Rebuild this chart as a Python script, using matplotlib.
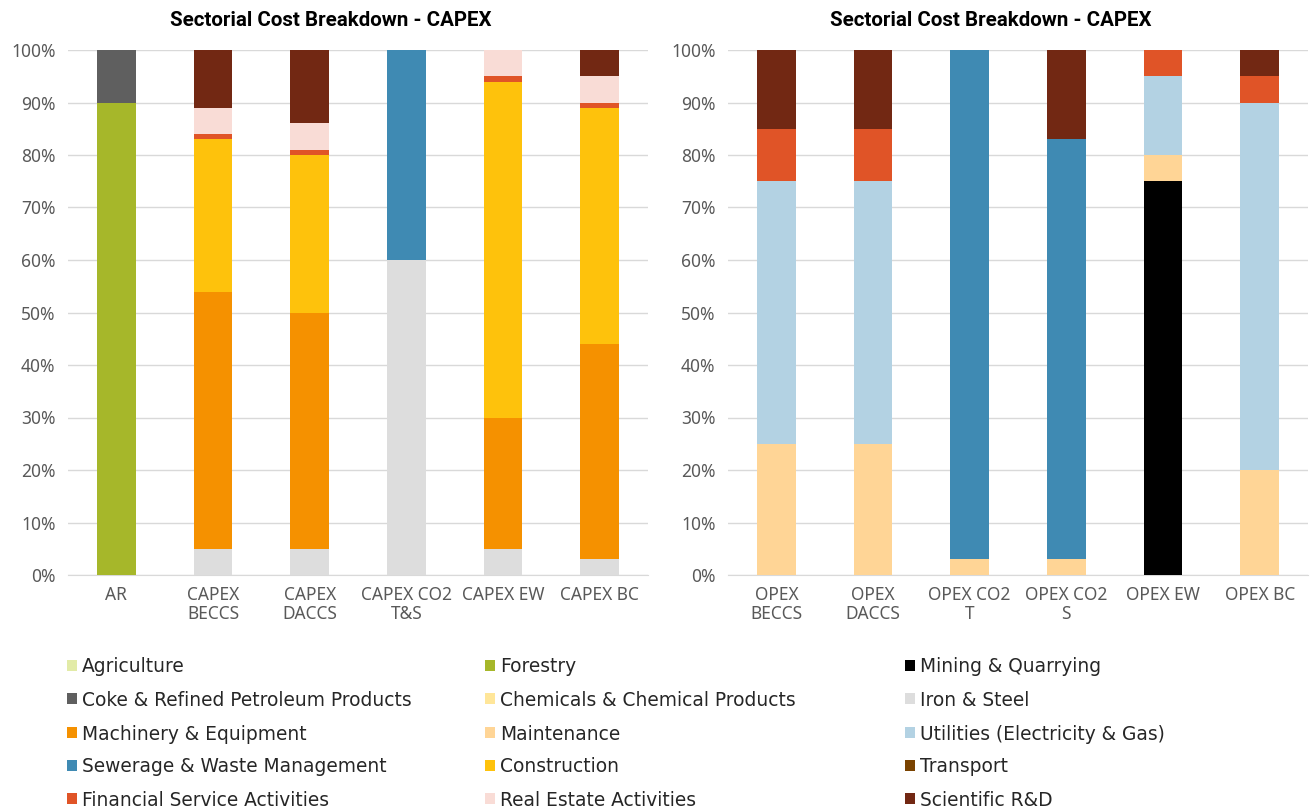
import matplotlib
matplotlib.use("Agg")
import matplotlib.pyplot as plt
from matplotlib.patches import Patch
import numpy as np

sectors = ["Agriculture", "Forestry", "Mining & Quarrying",
           "Coke & Refined Petroleum Products", "Chemicals & Chemical Products", "Iron & Steel",
           "Machinery & Equipment", "Maintenance", "Utilities (Electricity & Gas)",
           "Sewerage & Waste Management", "Construction", "Transport",
           "Financial Service Activities", "Real Estate Activities", "Scientific R&D"]
colors = ["#e2eba7", "#a6b72a", "#000000",
          "#5f5f5f", "#ffe699", "#dddddd",
          "#f59100", "#ffd596", "#b3d2e3",
          "#3f8ab3", "#fec20c", "#7a4300",
          "#e05427", "#f9dcd6", "#722813"]

capex_labels = ["AR", "CAPEX\nBECCS", "CAPEX\nDACCS", "CAPEX CO2\nT&S", "CAPEX EW", "CAPEX BC"]
opex_labels = ["OPEX\nBECCS", "OPEX\nDACCS", "OPEX CO2\nT", "OPEX CO2\nS", "OPEX EW", "OPEX BC"]
title = "Sectorial Cost Breakdown - CAPEX"

# shares (%) per sector, one value per bar
capex = {
    "Forestry":                          [90, 0, 0, 0, 0, 0],
    "Coke & Refined Petroleum Products": [10, 0, 0, 0, 0, 0],
    "Iron & Steel":                      [0, 5, 5, 60, 5, 3],
    "Machinery & Equipment":             [0, 49, 45, 0, 25, 41],
    "Sewerage & Waste Management":       [0, 0, 0, 40, 0, 0],
    "Construction":                      [0, 29, 30, 0, 64, 45],
    "Financial Service Activities":      [0, 1, 1, 0, 1, 1],
    "Real Estate Activities":            [0, 5, 5, 0, 5, 5],
    "Scientific R&D":                    [0, 11, 14, 0, 0, 5],
}
opex = {
    "Mining & Quarrying":                [0, 0, 0, 0, 75, 0],
    "Maintenance":                       [25, 25, 3, 3, 5, 20],
    "Utilities (Electricity & Gas)":     [50, 50, 0, 0, 15, 70],
    "Sewerage & Waste Management":       [0, 0, 97, 80, 0, 0],
    "Financial Service Activities":      [10, 10, 0, 0, 5, 5],
    "Scientific R&D":                    [15, 15, 0, 17, 0, 5],
}

W, H = 1312, 809
fig = plt.figure(figsize=(W / 100, H / 100), dpi=100)
tick_font = "Noto Sans"

def draw(ax, labels, data):
    x = np.arange(len(labels))
    bottom = np.zeros(len(labels))
    for s, c in zip(sectors, colors):
        if s in data:
            v = np.array(data[s], dtype=float) / 100
            ax.bar(x, v, bottom=bottom, width=0.4, color=c, edgecolor="none", zorder=3)
            bottom += v
    ax.set_xlim(-0.5, len(labels) - 0.5)
    ax.set_ylim(0, 1)
    yt = np.arange(0, 1.01, 0.1)
    ax.set_yticks(yt)
    ax.set_yticklabels([f"{int(round(t*100))}%" for t in yt],
                       fontsize=12.5, color="#595959", family=tick_font)
    ax.set_xticks(x)
    ax.set_xticklabels(labels, fontsize=12.5, color="#595959", family=tick_font,
                       linespacing=1.08)
    ax.tick_params(axis="both", length=0)
    ax.tick_params(axis="y", pad=9)
    ax.tick_params(axis="x", pad=8)
    ax.grid(axis="y", color="#d9d9d9", linewidth=1, zorder=0)
    for sp in ["top", "right", "left"]:
        ax.spines[sp].set_visible(False)
    ax.spines["bottom"].set_color("#d9d9d9")

ax1 = fig.add_axes([68 / W, 1 - 575 / H, 580 / W, 525 / H])
ax2 = fig.add_axes([728 / W, 1 - 575 / H, 580 / W, 525 / H])
draw(ax1, capex_labels, capex)
draw(ax2, opex_labels, opex)

for cx in (331, 991):
    fig.text(cx / W, 1 - 20 / H, title, ha="center", va="center", fontsize=14.8,
             fontweight="bold", family="Roboto", color="#000000")

# legend laid out row-wise in three columns
col_x = [67, 485, 905]
row_y = [667, 700, 734, 767, 800]
for i, (s, c) in enumerate(zip(sectors, colors)):
    r, k = divmod(i, 3)
    fig.legend(handles=[Patch(facecolor=c, edgecolor="none", label=s)],
               loc="center left", bbox_to_anchor=(col_x[k] / W, 1 - row_y[r] / H),
               frameon=False, prop={"family": "DejaVu Sans", "size": 13.45},
               handlelength=0.52, handleheight=0.52,
               handletextpad=0.3, borderaxespad=0, borderpad=0,
               labelcolor="#262626")

fig.savefig("out.png", dpi=100)
